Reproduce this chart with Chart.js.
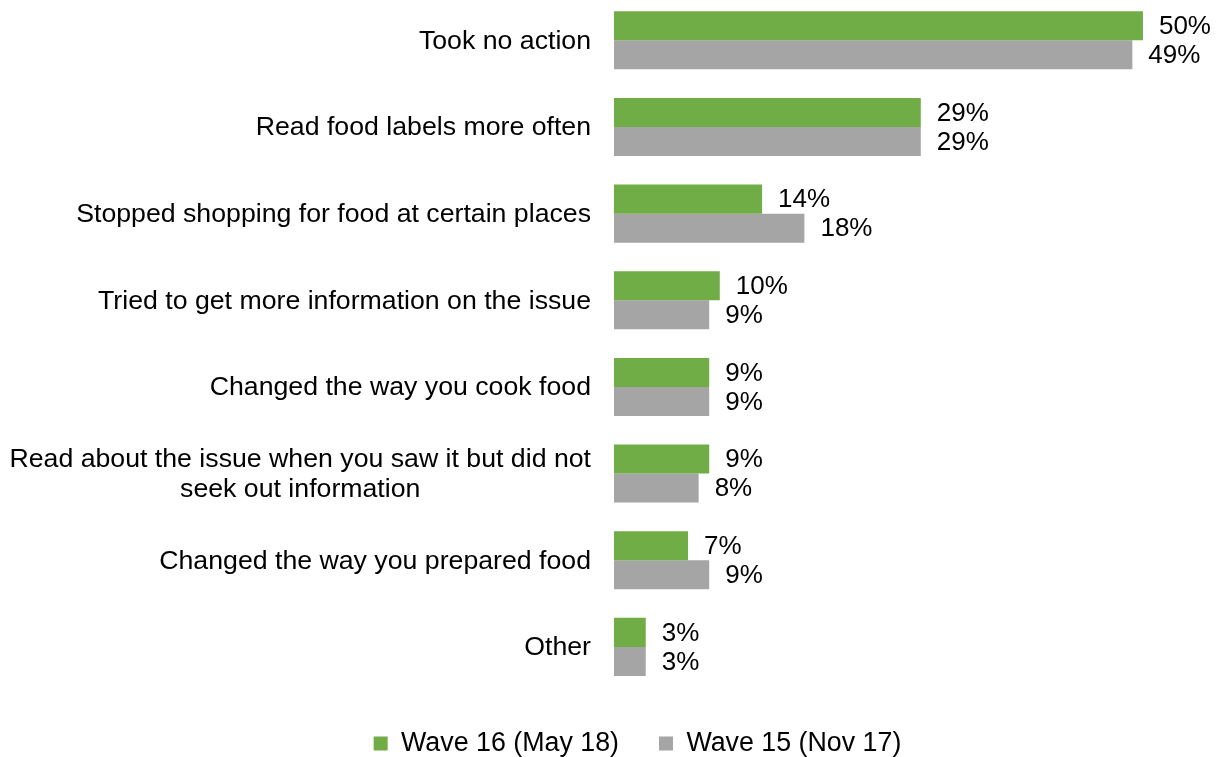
<!DOCTYPE html>
<html>
<head>
<meta charset="utf-8">
<script src="https://cdn.jsdelivr.net/npm/chart.js@4"></script>
<style>
  html, body { margin: 0; padding: 0; background: #ffffff; overflow: hidden; }
  #wrap { position: absolute; left: 0; top: -3px; width: 1222px; height: 770px; }
</style>
</head>
<body>
<div id="wrap"><canvas id="c" width="1222" height="770"></canvas></div>
<script>
const categories = [
  'Took no action',
  'Read food labels more often',
  'Stopped shopping for food at certain places',
  'Tried to get more information on the issue',
  'Changed the way you cook food',
  ['Read about the issue when you saw it but did not', 'seek out information'],
  'Changed the way you prepared food',
  'Other'
];
const wave16 = [50, 29, 14, 10, 9, 9, 7, 3];
const wave15 = [49, 29, 18, 9, 9, 8, 9, 3];
const seriesNames = ['Wave 16 (May 18)', 'Wave 15 (Nov 17)'];
const seriesColors = ['#70AD47', '#A5A5A5'];

const FONT = '"Liberation Sans", Arial, Helvetica, sans-serif';

const catLabelPlugin = {
  id: 'catLabels',
  afterDraw(chart) {
    const ctx = chart.ctx;
    const y = chart.scales.y;
    const rightX = chart.chartArea.left - 23;
    ctx.save();
    ctx.font = '26.7px ' + FONT;
    ctx.fillStyle = '#000000';
    ctx.textBaseline = 'middle';
    categories.forEach((lab, i) => {
      const cy = y.getPixelForTick(i) + 1;
      const lines = Array.isArray(lab) ? lab : [lab];
      const w = Math.max(...lines.map(l => ctx.measureText(l).width));
      const lh = 30;
      const y0 = cy - (lines.length - 1) * lh / 2;
      ctx.textAlign = 'center';
      lines.forEach((l, k) => {
        ctx.fillText(l, rightX - w / 2, y0 + k * lh);
      });
    });
    ctx.restore();
  }
};

const valueLabelPlugin = {
  id: 'valueLabels',
  afterDatasetsDraw(chart) {
    const ctx = chart.ctx;
    ctx.save();
    ctx.font = '26px ' + FONT;
    ctx.fillStyle = '#000000';
    ctx.textBaseline = 'middle';
    ctx.textAlign = 'left';
    chart.data.datasets.forEach((ds, di) => {
      const meta = chart.getDatasetMeta(di);
      meta.data.forEach((el, i) => {
        ctx.fillText(ds.data[i] + '%', el.x + 16, el.y + 1);
      });
    });
    ctx.restore();
  }
};

new Chart(document.getElementById('c'), {
  type: 'bar',
  data: {
    labels: categories,
    datasets: [
      { label: seriesNames[0], data: wave16, backgroundColor: seriesColors[0], borderWidth: 0 },
      { label: seriesNames[1], data: wave15, backgroundColor: seriesColors[1], borderWidth: 0 }
    ]
  },
  options: {
    indexAxis: 'y',
    responsive: false,
    animation: false,
    devicePixelRatio: 1,
    layout: { padding: { left: 58, right: 5, top: 0, bottom: 0 } },
    datasets: { bar: { categoryPercentage: 0.67, barPercentage: 1.0 } },
    scales: {
      x: { display: false, min: 0, max: 57 },
      y: {
        display: true,
        grid: { display: false },
        border: { display: false },
        ticks: { display: false },
        afterFit: (s) => { s.width = 556; }
      }
    },
    plugins: {
      legend: {
        position: 'bottom',
        align: 'center',
        labels: {
          boxWidth: 14,
          boxHeight: 14,
          padding: 40,
          color: '#000000',
          font: { family: FONT, size: 26.8 }
        }
      },
      tooltip: { enabled: false }
    }
  },
  plugins: [catLabelPlugin, valueLabelPlugin]
});
</script>
</body>
</html>
